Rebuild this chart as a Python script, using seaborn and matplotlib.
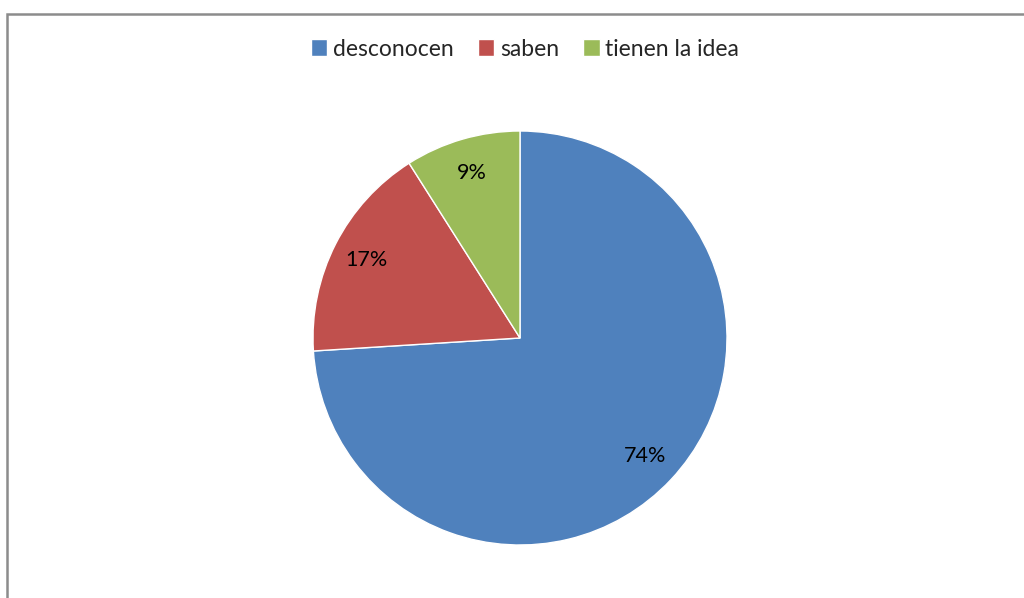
import matplotlib.pyplot as plt
import seaborn as sns
from matplotlib.patches import Rectangle

# Data
labels = ["desconocen", "saben", "tienen la idea"]
values = [74, 17, 9]
colors = ["#4F81BD", "#C0504D", "#9BBB59"]

sns.set_theme(style="white")
plt.rcParams['font.family'] = ['Lato', 'DejaVu Sans']

W, H = 1024, 598
fig = plt.figure(figsize=(W / 100, H / 100), dpi=100)

# outer chart frame (left + top edges visible)
fig.patches.append(Rectangle((6.5 / W, -0.05), 1.2, 1 - 13.5 / H + 0.05,
                             transform=fig.transFigure, fill=False,
                             edgecolor="#8c8c8c", linewidth=1.8))

cx, cy, r = 520, H - 338, 207
ax = fig.add_axes([(cx - r) / W, (cy - r) / H, 2 * r / W, 2 * r / H])
wedges, texts, autotexts = ax.pie(values, colors=colors, startangle=90,
                                  counterclock=False, autopct="%d%%",
                                  pctdistance=0.83,
                                  textprops={"fontsize": 15.5, "color": "black"})
ax.set_xlim(-1, 1)
ax.set_ylim(-1, 1)
ax.set_aspect("equal")
ax.axis("off")

fig.legend(wedges, labels, loc="center", bbox_to_anchor=(525 / W, 1 - 49 / H),
           ncol=3, frameon=False, fontsize=16.5, handlelength=0.72,
           handleheight=0.72, handletextpad=0.25, columnspacing=1.05)

fig.savefig("out.png", dpi=100)
